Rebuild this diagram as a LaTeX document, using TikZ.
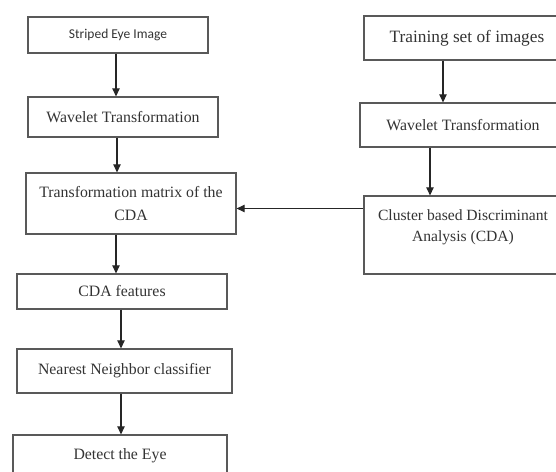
\documentclass[tikz,border=0pt]{standalone}
\usepackage{fontspec}
\setmainfont{Liberation Serif}
\newfontfamily\calib{Carlito}
\usetikzlibrary{arrows.meta}
\begin{document}
\begin{tikzpicture}[x=1pt,y=-1pt,
  box/.style={draw=black!65, line width=1.3pt, rectangle, inner sep=0pt, text=black!80,
              font=\fontsize{15.8}{23}\selectfont, align=center},
  lbl/.style={inner sep=0pt, text=black!80, font=\fontsize{15.6}{21}\selectfont, align=center},
  arr/.style={draw=black!85, line width=1.1pt, -{Triangle[length=8pt,width=7.5pt]}}]
\useasboundingbox (0,0) rectangle (556,471);
\clip (0,0) rectangle (556,471);
% left column
\node[box, minimum width=180pt, minimum height=36pt, font=\calib\fontsize{13.5}{16}\selectfont] (b1) at (118,35) {Striped Eye Image};
\node[box, minimum width=190pt, minimum height=40pt] (b2) at (123,117) {Wavelet Transformation};
\node[box, minimum width=210pt, minimum height=61pt] (b3) at (131,203.5) {Transformation matrix of the\\CDA};
\node[box, minimum width=210pt, minimum height=35pt] (b4) at (122,291.5) {CDA features};
\node[box, minimum width=215pt, minimum height=44pt] (b5) at (124.5,371) {Nearest Neighbor classifier};
\node[box, minimum width=214pt, minimum height=41pt] (b6) at (120,455.5) {Detect the Eye};
% right column
\node[box, minimum width=206pt, minimum height=44pt, font=\fontsize{17.3}{20}\selectfont] (r1) at (467,38) {Training set of images};
\node[box, minimum width=206pt, minimum height=44pt] (r2) at (463,125) {Wavelet Transformation};
\node[box, minimum width=198pt, minimum height=78pt] (r3) at (463,235) {};
\node[lbl] (r3t) at (463,227) {Cluster based Discriminant\\Analysis (CDA)};
% connectors
\draw[arr] ([xshift=-2pt]b1.south) -- ([xshift=-2pt]b1.south |- b2.north);
\draw[arr] ([xshift=-1pt]b1.south |- b2.south) -- ([xshift=-1pt]b1.south |- b3.north);
\draw[arr] ([xshift=-2pt]b1.south |- b3.south) -- ([xshift=-2pt]b1.south |- b4.north);
\draw[arr] ([xshift=-1pt]b4.south) -- ([xshift=-1pt]b4.south |- b5.north);
\draw[arr] ([xshift=-1pt]b4.south |- b5.south) -- ([xshift=-1pt]b4.south |- b6.north);
\draw[arr] ([xshift=-24pt]r1.south) -- ([xshift=-24pt]r1.south |- r2.north);
\draw[arr] ([xshift=-33pt]r2.south) -- ([xshift=-33pt]r2.south |- r3.north);
\coordinate (h) at (300,208.5);
\draw[arr] (r3.west |- h) -- (b3.east |- h);
\end{tikzpicture}
\end{document}
